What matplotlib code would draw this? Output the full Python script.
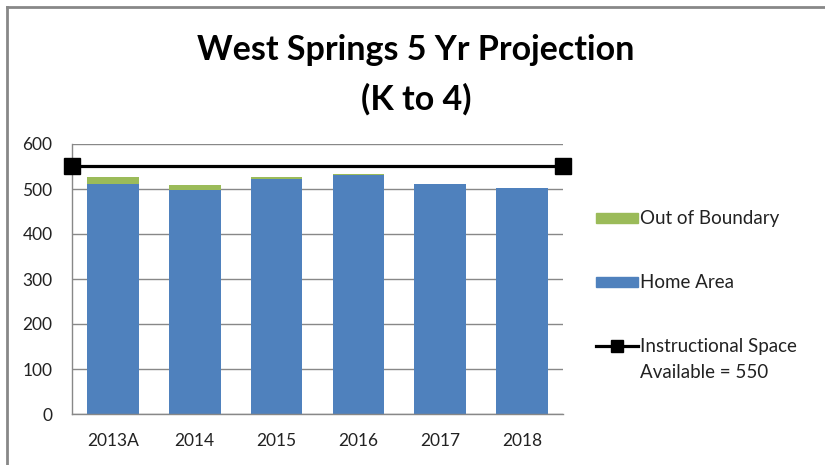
import numpy as np
import matplotlib
matplotlib.use("Agg")
from matplotlib import pyplot as plt
from matplotlib.lines import Line2D
from matplotlib.patches import Patch

# data
years = ["2013A", "2014", "2015", "2016", "2017", "2018"]
home_area = [510, 497, 523, 531, 512, 503]
out_of_boundary = [16, 11, 4, 3, 0, 0]
capacity = 550

blue = "#4F81BD"
green = "#9BBB59"
grid = "#888888"

plt.rcParams["font.family"] = ["Lato", "DejaVu Sans"]

fig = plt.figure(figsize=(8.25, 4.65), dpi=100)
ax = fig.add_axes([72 / 825, 51 / 465, 491 / 825, 270 / 465])

x = np.arange(len(years))
ax.bar(x, home_area, width=0.63, color=blue, zorder=2)
ax.bar(x, out_of_boundary, width=0.63, bottom=home_area, color=green, zorder=2)

# capacity line runs across the whole plot area
ax.plot([-0.5, len(years) - 0.5], [capacity, capacity], color="black", lw=2.3,
        marker="s", markersize=11, zorder=4, clip_on=False)

ax.set_xlim(-0.5, len(years) - 0.5)
ax.set_ylim(0, 600)
ax.set_yticks(range(0, 601, 100))
ax.set_xticks(x)
ax.set_xticklabels(years)
ax.yaxis.grid(True, color=grid, lw=1, zorder=0)
ax.tick_params(length=0, labelsize=12.5, colors="#222222")
ax.tick_params(axis="y", pad=14)
ax.tick_params(axis="x", pad=14)
for s in ["top", "right"]:
    ax.spines[s].set_visible(False)
for s in ["left", "bottom"]:
    ax.spines[s].set_color(grid)
    ax.spines[s].set_linewidth(1)

fig.text(416 / 825, 1 - 50 / 465, "West Springs 5 Yr Projection", ha="center",
         va="center", fontsize=24.5, fontweight="bold")
fig.text(416 / 825, 1 - 99 / 465, "(K to 4)", ha="center", va="center",
         fontsize=24.5, fontweight="bold")

handles = [Patch(color=green), Patch(color=blue),
           Line2D([], [], color="black", lw=2.3, marker="s", markersize=9)]
labels = ["Out of Boundary", "Home Area", "Instructional Space"]
leg = fig.legend(handles, labels, loc="upper left", bbox_to_anchor=(587 / 825, 1 - 201 / 465),
                 frameon=False, fontsize=13.5, labelspacing=2.5, handlelength=2.2,
                 handleheight=0.45, handletextpad=0.15, borderpad=0)
for t in leg.get_texts():
    t.set_color("#222222")
fig.text(640 / 825, 1 - 372 / 465, "Available = 550", ha="left", va="center",
         fontsize=13.5, color="#222222")

# outer chart frame
fig.add_artist(Line2D([7 / 825, 7 / 825], [0, 1 - 7.5 / 465], color=grid, lw=2))
fig.add_artist(Line2D([7 / 825, 1], [1 - 7.5 / 465, 1 - 7.5 / 465], color=grid, lw=2))

fig.savefig("out.png", dpi=100)
